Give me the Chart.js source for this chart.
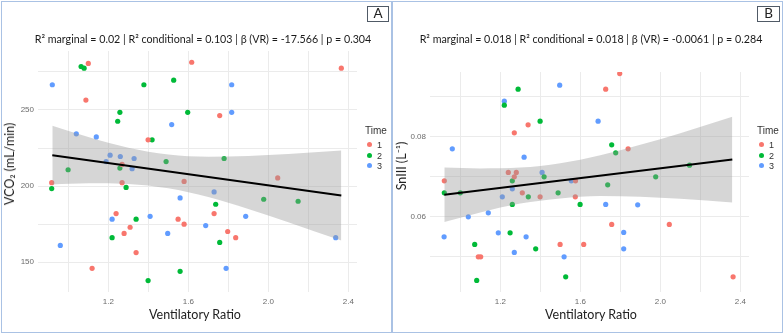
<!DOCTYPE html>
<html>
<head>
<meta charset="utf-8">
<script src="https://cdn.jsdelivr.net/npm/chart.js@4.4.1/dist/chart.umd.min.js"></script>
<style>
  html, body { margin: 0; padding: 0; background: #fff; }
  body { width: 784px; height: 335px; position: relative; overflow: hidden; font-family: Lato, 'Open Sans', sans-serif; color: #222; }
  .frame { position: absolute; top: 1px; height: 332px; border: 1px solid #aac2e4; box-sizing: border-box; }
  canvas { position: absolute; top: 0; }
  .title { position: absolute; top: 31px; font-size: 10.7px; line-height: 16px; white-space: nowrap; transform: translateX(-50%); color: #1a1a1a; }
  .xlab { position: absolute; top: 306px; font-size: 12.5px; line-height: 18px; white-space: nowrap; transform: translateX(-50%); }
  .ylab { position: absolute; font-size: 12.5px; line-height: 18px; white-space: nowrap; transform: translate(-50%, -50%) rotate(-90deg); }
  .tag { position: absolute; top: 6px; height: 16px; border: 1.5px solid #505a66; box-sizing: border-box; font-size: 13.5px; line-height: 13px; text-align: center; }
  .leg { position: absolute; font-family: 'Liberation Sans', Arial, sans-serif; font-size: 9px; line-height: 10px; color: #333; white-space: nowrap; }
  .dot { position: absolute; width: 5px; height: 5px; border-radius: 50%; }
</style>
</head>
<body>
<div class="frame" style="left:1px;width:391px"></div>
<div class="frame" style="left:392px;width:391px"></div>

<canvas id="chartA" width="392" height="335" style="left:0"></canvas>
<canvas id="chartB" width="392" height="335" style="left:392px"></canvas>

<div class="title" style="left:203px">R² marginal = 0.02 | R² conditional = 0.103 | β (VR) = -17.566 | p = 0.304</div>
<div class="title" style="left:591px">R² marginal = 0.018 | R² conditional = 0.018 | β (VR) = -0.0061 | p = 0.284</div>
<div class="xlab" style="left:195px">Ventilatory Ratio</div>
<div class="xlab" style="left:591px">Ventilatory Ratio</div>
<div class="ylab" style="left:10px;top:164px">VCO₂ (mL/min)</div>
<div class="ylab" style="left:402px;top:166px">SnIII (L⁻¹)</div>
<div class="tag" style="left:367px;width:22px">A</div>
<div class="tag" style="left:757px;width:23px">B</div>
<div id="legA"></div>
<div id="legB"></div>

<script>
// groups
var TIMES = ['1', '2', '3'];
var TIME_COLORS = ['#F8766D', '#00BA38', '#619CFF'];

// ---- Panel A: VCO2 (mL/min) vs ventilatory ratio
var A_X1 = [1.10, 1.617, 2.365, 1.088, 1.757, 1.399, 1.269, 0.917, 1.269, 1.579, 2.047, 1.239, 1.729, 1.549, 1.579, 1.309, 1.279, 1.797, 1.837, 1.339, 1.119];
var A_Y1 = [280.6, 281.4, 277.5, 256.5, 246.3, 230.4, 214.2, 202.2, 202.2, 203.0, 205.3, 181.9, 181.9, 178.2, 174.9, 172.9, 168.8, 170.1, 166.0, 156.2, 145.9];
var A_X2 = [1.064, 1.079, 1.378, 1.527, 1.258, 1.597, 1.247, 1.419, 1.779, 1.489, 0.999, 1.258, 0.917, 1.289, 1.977, 2.149, 1.737, 1.339, 1.219, 1.757, 1.559, 1.399];
var A_Y2 = [278.6, 277.5, 266.6, 269.6, 248.5, 248.5, 242.6, 230.4, 218.1, 216.1, 210.7, 211.8, 198.3, 199.1, 191.3, 190.0, 188.0, 178.2, 166.0, 162.9, 143.9, 137.8];
var A_X3 = [0.92, 1.817, 1.817, 1.517, 1.04, 1.14, 1.209, 1.26, 1.329, 1.189, 1.319, 1.729, 1.559, 1.219, 1.409, 1.887, 1.687, 1.497, 2.337, 0.96, 1.789];
var A_Y3 = [266.6, 266.6, 248.5, 240.4, 234.3, 232.3, 220.3, 219.4, 218.1, 216.1, 211.4, 196.1, 192.2, 178.2, 180.1, 180.1, 174.0, 168.8, 166.0, 160.9, 145.9];
var A_FIT_X = [0.92, 2.365];
var A_FIT_Y = [220.3, 193.7];
var A_BAND_X = [0.92, 1.1, 1.3, 1.5, 1.7, 1.9, 2.1, 2.365];
var A_BAND_HI = [239.6, 232.2, 225.2, 220.7, 219.3, 219.7, 221.0, 223.3];
var A_BAND_LO = [201.0, 201.8, 201.4, 198.5, 192.7, 184.9, 176.2, 164.1];
var A_X_GRID = [1.0, 1.2, 1.4, 1.6, 1.8, 2.0, 2.2, 2.4];
var A_X_LABELS = [1.2, 1.6, 2.0, 2.4];
var A_Y_GRID = [150, 175, 200, 225, 250, 275];
var A_Y_LABELS = [150, 200, 250];

// ---- Panel B: SnIII (1/L) vs ventilatory ratio
var B_X1 = [1.727, 1.797, 1.339, 1.27, 1.839, 1.24, 1.28, 1.27, 0.92, 1.576, 1.31, 1.399, 1.575, 1.757, 2.045, 1.499, 1.617, 1.09, 1.102, 2.364];
var B_Y1 = [0.0919, 0.0958, 0.0830, 0.0810, 0.0770, 0.0711, 0.0711, 0.0700, 0.0690, 0.0690, 0.0660, 0.0650, 0.0650, 0.0581, 0.0581, 0.0531, 0.0531, 0.0500, 0.0500, 0.0450];
var B_X2 = [1.289, 1.22, 1.399, 1.26, 1.419, 1.737, 1.757, 1.777, 2.146, 1.977, 0.92, 1.0, 1.34, 1.489, 1.26, 1.599, 1.249, 1.072, 1.377, 1.082, 1.527];
var B_Y2 = [0.0919, 0.0879, 0.0839, 0.0690, 0.0700, 0.0680, 0.0780, 0.0760, 0.0729, 0.0700, 0.0660, 0.0660, 0.0650, 0.0660, 0.0631, 0.0631, 0.0560, 0.0531, 0.0520, 0.0441, 0.0450];
var B_X3 = [1.497, 1.22, 1.689, 0.96, 1.319, 1.409, 1.555, 1.26, 1.21, 1.727, 1.887, 1.04, 1.14, 0.919, 1.19, 1.329, 1.27, 1.519, 1.817, 1.817];
var B_Y3 = [0.0929, 0.0889, 0.0839, 0.0770, 0.0749, 0.0711, 0.0690, 0.0670, 0.0650, 0.0631, 0.0630, 0.0600, 0.0610, 0.0550, 0.0560, 0.0550, 0.0511, 0.0500, 0.0561, 0.0520];
var B_FIT_X = [0.92, 2.36];
var B_FIT_Y = [0.0655, 0.0743];
var B_BAND_X = [0.92, 1.1, 1.3, 1.5, 1.7, 1.9, 2.1, 2.36];
var B_BAND_HI = [0.0723, 0.0721, 0.0723, 0.0734, 0.0754, 0.0780, 0.0809, 0.0850];
var B_BAND_LO = [0.0587, 0.0611, 0.0633, 0.0646, 0.0652, 0.0650, 0.0645, 0.0636];
var B_X_GRID = [1.0, 1.2, 1.4, 1.6, 1.8, 2.0, 2.2, 2.4];
var B_X_LABELS = [1.2, 1.6, 2.0, 2.4];
var B_Y_GRID = [0.05, 0.06, 0.07, 0.08, 0.09];
var B_Y_LABELS = [0.06, 0.08];

Chart.defaults.font.family = "'Liberation Sans', Arial, sans-serif";
Chart.defaults.animation = false;

function pts(xs, ys) {
  return xs.map(function (x, i) { return { x: x, y: ys[i] }; });
}
function hasTick(list, v) {
  return list.some(function (t) { return Math.abs(t - v) < 1e-9; });
}

function axis(min, max, grid, labels, digits, isX) {
  return {
    type: 'linear', min: min, max: max,
    afterBuildTicks: function (s) { s.ticks = grid.map(function (v) { return { value: v }; }); },
    afterFit: function (s) { if (isX) s.height = 43; else s.width = 38; },
    grid: { color: '#ebebeb', lineWidth: 1, drawTicks: false },
    border: { display: false },
    ticks: {
      padding: isX ? 5 : 4, color: '#6b6b6b', font: { size: 8 }, maxRotation: 0, autoSkip: false,
      callback: function (v) { return hasTick(labels, v) ? v.toFixed(digits) : ''; }
    }
  };
}

function makePanel(id, p) {
  var datasets = [];
  [p.x1, p.x2, p.x3].forEach(function (xs, i) {
    datasets.push({ label: TIMES[i], data: pts(xs, [p.y1, p.y2, p.y3][i]), backgroundColor: TIME_COLORS[i],
      pointRadius: 2.6, borderWidth: 0, order: 2 });
  });
  // confidence band drawn over the points, like geom_smooth
  datasets.push({ type: 'line', data: pts(p.bandX, p.bandHi), fill: '+1', backgroundColor: 'rgba(153,153,153,0.4)',
    borderWidth: 0, pointRadius: 0, cubicInterpolationMode: 'monotone', order: 1 });
  datasets.push({ type: 'line', data: pts(p.bandX, p.bandLo), fill: false,
    borderWidth: 0, pointRadius: 0, cubicInterpolationMode: 'monotone', order: 1 });
  datasets.push({ type: 'line', data: pts(p.fitX, p.fitY), borderColor: '#000', borderWidth: 2,
    pointRadius: 0, fill: false, order: 0 });

  new Chart(document.getElementById(id), {
    type: 'scatter',
    data: { datasets: datasets },
    options: {
      responsive: false, events: [],
      layout: { padding: { left: 0, top: p.top, right: 35, bottom: 0 } },
      plugins: { legend: { display: false }, tooltip: { enabled: false } },
      scales: {
        x: axis(0.8485, 2.4435, p.xGrid, p.xLabels, 1, true),
        y: axis(p.yMin, p.yMax, p.yGrid, p.yLabels, p.yDigits, false)
      }
    }
  });
}

function makeLegend(id, left, top) {
  var el = document.getElementById(id);
  var html = '<div class="leg" style="left:' + left + 'px;top:' + top + 'px;font-size:10px">Time</div>';
  TIMES.forEach(function (t, i) {
    var y = top + 14 + i * 10.5;
    html += '<div class="dot" style="left:' + (left + 2) + 'px;top:' + (y + 2) + 'px;background:' + TIME_COLORS[i] + '"></div>';
    html += '<div class="leg" style="left:' + (left + 12) + 'px;top:' + y + 'px">' + t + '</div>';
  });
  el.innerHTML = html;
}

makePanel('chartA', {
  x1: A_X1, y1: A_Y1, x2: A_X2, y2: A_Y2, x3: A_X3, y3: A_Y3,
  fitX: A_FIT_X, fitY: A_FIT_Y, bandX: A_BAND_X, bandHi: A_BAND_HI, bandLo: A_BAND_LO,
  xGrid: A_X_GRID, xLabels: A_X_LABELS, yGrid: A_Y_GRID, yLabels: A_Y_LABELS,
  yMin: 130.3, yMax: 288.8, yDigits: 0, top: 51
});
makePanel('chartB', {
  x1: B_X1, y1: B_Y1, x2: B_X2, y2: B_Y2, x3: B_X3, y3: B_Y3,
  fitX: B_FIT_X, fitY: B_FIT_Y, bandX: B_BAND_X, bandHi: B_BAND_HI, bandLo: B_BAND_LO,
  xGrid: B_X_GRID, xLabels: B_X_LABELS, yGrid: B_Y_GRID, yLabels: B_Y_LABELS,
  yMin: 0.0412, yMax: 0.0962, yDigits: 2, top: 72
});
makeLegend('legA', 365, 126);
makeLegend('legB', 757, 126);
</script>
</body>
</html>
